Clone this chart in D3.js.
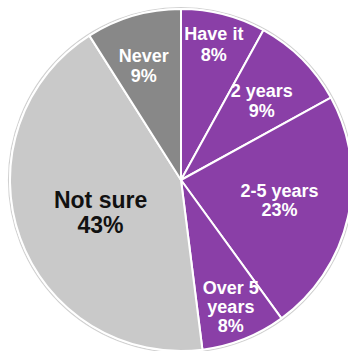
<!DOCTYPE html>
<html>
<head>
<meta charset="utf-8">
<script src="https://cdn.jsdelivr.net/npm/d3@7"></script>
<style>
html,body{margin:0;padding:0;background:#fff;}
svg{display:block;}
</style>
</head>
<body>
<svg id="chart" width="348" height="351"></svg>
<script>
const categories = ["Have it", "2 years", "2-5 years", "Over 5 years", "Not sure", "Never"];
const values = [8, 9, 23, 8, 43, 9];
const labelLines = [["Have it", "8%"], ["2 years", "9%"], ["2-5 years", "23%"], ["Over 5", "years", "8%"], ["Not sure", "43%"], ["Never", "9%"]];
const colors = ["#8a3fa7", "#8a3fa7", "#8a3fa7", "#8a3fa7", "#c9c9c9", "#888888"];

const svg = d3.select("#chart");
const cx = 181, cy = 180, r = 171;
const g = svg.append("g").attr("transform", `translate(${cx},${cy})`);

const pie = d3.pie().sort(null).value(d => d.v);
const data = pie(categories.map((c, i) => ({c, v: values[i], i})));
const arc = d3.arc().innerRadius(0).outerRadius(r);

// subtle outer shadow
g.append("circle").attr("r", r + 1.5).attr("fill", "none")
  .attr("stroke", "#bdbdbd").attr("stroke-width", 1.2).attr("opacity", 0.7);

g.selectAll("path.slice").data(data).enter().append("path")
  .attr("class", "slice")
  .attr("d", arc)
  .attr("fill", d => colors[d.data.i])
  .attr("stroke", "#fff")
  .attr("stroke-width", 2)
  .attr("stroke-linejoin", "round");

// label placement: radial fraction per slice plus small nudges
const labelRadius = [0.82, 0.66, 0.62, 0.84, 0.5, 0.72];
const nudge = [[-2, 0], [1, 0], [-5, -3], [-3, -7], [0, 3], [-3, 4]];
const labelCfg = [
  {size: 18, lh: 21, color: "#fff"},
  {size: 18, lh: 20, color: "#fff"},
  {size: 18, lh: 19, color: "#fff"},
  {size: 18, lh: 19, color: "#fff"},
  {size: 23, lh: 25, color: "#111"},
  {size: 18, lh: 20, color: "#fff"}
];
const labelArc = d3.arc();

data.forEach(d => {
  const i = d.data.i;
  const lr = r * labelRadius[i];
  let [x, y] = labelArc.innerRadius(lr).outerRadius(lr).centroid(d);
  x += nudge[i][0]; y += nudge[i][1];
  const cfg = labelCfg[i];
  const lines = labelLines[i];
  const t = g.append("text")
    .attr("text-anchor", "middle")
    .attr("font-family", "Liberation Sans, Arial, sans-serif")
    .attr("font-weight", "bold")
    .attr("font-size", cfg.size)
    .attr("fill", cfg.color);
  const offset0 = -(lines.length - 1) * cfg.lh / 2 + cfg.size * 0.35;
  lines.forEach((ln, k) => {
    t.append("tspan").attr("x", x).attr("y", y + offset0 + k * cfg.lh).text(ln);
  });
});
</script>
</body>
</html>
